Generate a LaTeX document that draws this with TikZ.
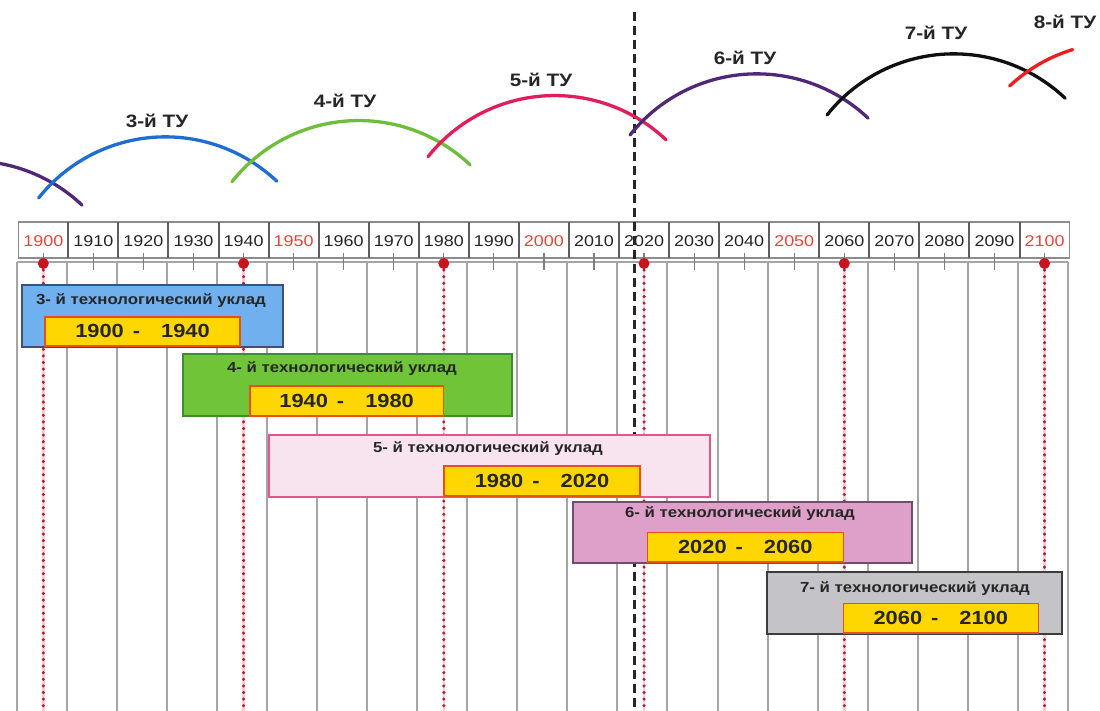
\documentclass[tikz,border=0pt]{standalone}
\usepackage{fontspec}
\setmainfont{Liberation Sans}[FakeStretch=1.15]
\definecolor{gridc}{RGB}{165,165,165}
\definecolor{hdrsep}{RGB}{95,95,95}
\definecolor{hdrline}{RGB}{140,140,140}
\definecolor{yrred}{RGB}{228,70,60}
\definecolor{dotred}{RGB}{200,20,30}
\definecolor{dotline}{RGB}{175,30,50}
\definecolor{dotunder}{RGB}{250,205,210}
\definecolor{cthreef}{RGB}{112,176,238}
\definecolor{cthreel}{RGB}{60,80,120}
\definecolor{cfourf}{RGB}{112,196,56}
\definecolor{cfourl}{RGB}{65,140,45}
\definecolor{cfivef}{RGB}{248,228,238}
\definecolor{cfivel}{RGB}{228,85,140}
\definecolor{csixf}{RGB}{222,160,200}
\definecolor{csixl}{RGB}{110,80,110}
\definecolor{csevf}{RGB}{196,196,200}
\definecolor{csevl}{RGB}{60,60,60}
\definecolor{yel}{RGB}{255,215,0}
\definecolor{yell}{RGB}{232,80,20}
\definecolor{arcP}{RGB}{80,40,120}
\definecolor{arcB}{RGB}{30,110,210}
\definecolor{arcG}{RGB}{110,190,60}
\definecolor{arcR}{RGB}{225,30,90}
\definecolor{arcK}{RGB}{15,15,15}
\definecolor{arcE}{RGB}{235,30,30}
\begin{document}
\begin{tikzpicture}[x=1pt,y=-1pt,
  gridline/.style={draw=gridc,line width=2pt},
  tickst/.style={draw=hdrsep!80,line width=1.2pt},
  yrlab/.style={font=\fontsize{15.6}{16}\selectfont,inner sep=0pt},
  dotst/.style={circle,fill=dotred,inner sep=0pt,minimum size=11pt},
  dotunderst/.style={draw=dotunder,line width=2.4pt},
  dotlinest/.style={draw=dotline,line width=3.4pt,line cap=round,dash pattern=on 0pt off 6.6pt},
  nowline/.style={draw=black!85,line width=3pt,dash pattern=on 9pt off 5pt},
  boxst/.style 2 args={draw=#2,fill=#1,line width=2pt,anchor=north west,inner sep=0pt,outer sep=0pt},
  yelbox/.style={draw=yell,fill=yel,line width=1.6pt,anchor=north west,inner sep=0pt,outer sep=0pt,
    font=\fontsize{19}{20}\selectfont\bfseries,text=black!85},
  titlest/.style={font=\fontsize{14.6}{15}\selectfont\bfseries,text=black!85,inner sep=0pt},
  arcst/.style={line width=3.3pt,line cap=round},
  arclab/.style={font=\fontsize{18}{18}\selectfont\bfseries,text=black!85,inner sep=0pt}]
\useasboundingbox (0,0) rectangle (1100,711);
\fill[white] (0,0) rectangle (1100,711);

% lower grid
\foreach \k in {0,...,21}{
  \pgfmathsetmacro{\xx}{18.3+50.06*\k-1.6}
  \draw[gridline] (\xx,262) -- (\xx,711);
}
\draw[gridline] (16.7,262) -- (1068,262);

% header row
\draw[draw=hdrline,line width=1.6pt] (18.3,222.3) rectangle (1069.5,258.3);
\foreach \k in {1,...,20}{
  \pgfmathsetmacro{\xx}{18.3+50.06*\k}
  \draw[draw=hdrsep,line width=2pt] (\xx,222.3) -- (\xx,258.3);
}
\foreach \k in {0,...,20}{
  \pgfmathtruncatemacro{\yr}{1900+10*\k}
  \pgfmathtruncatemacro{\m}{mod(\k,5)}
  \pgfmathsetmacro{\xc}{18.3+50.06*\k+25.03}
  \ifnum\m=0 \def\yc{yrred}\else\def\yc{black!85}\fi
  \node[yrlab,text=\yc] (h\yr) at (\xc,240.8) {\yr};
  \draw[tickst] (\xc,253) -- (\xc,270);
}

% red dotted lines
\foreach \k in {0,4,8,12,16,20}{
  \pgfmathtruncatemacro{\yr}{1900+10*\k}
  \pgfmathsetmacro{\xc}{18.3+50.06*\k+25.03}
  \coordinate (a\yr) at (\xc,263.5);
  \coordinate (z\yr) at (\xc,711);
  \draw[dotunderst] (a\yr) -- (z\yr);
  \draw[dotlinest] (a\yr) -- (z\yr);
}

% "now" dashed line
\coordinate (nowtop) at (634.2,12);
\coordinate (nowbot) at (634.2,711);
\draw[nowline] (nowtop) -- (nowbot);

% dots on axis
\foreach \k in {0,4,8,12,16,20}{
  \pgfmathtruncatemacro{\yr}{1900+10*\k}
  \node[dotst] (d\yr) at (a\yr) {};
}

% boxes
\node[boxst={cthreef}{cthreel},minimum width=261pt,minimum height=61.7pt] (b3) at (21.7,285) {};
\node[yelbox,minimum width=195pt,minimum height=29.3pt] (p3) at (45,316.7) {1900\hspace{9pt}-\hspace{21pt}1940};
\node[titlest] (t3) at (151,301) {3- й технологический уклад};

\node[boxst={cfourf}{cfourl},minimum width=329pt,minimum height=62pt] (b4) at (182.7,354) {};
\node[yelbox,minimum width=193.3pt,minimum height=30.3pt] (p4) at (250,385.7) {1940\hspace{9pt}-\hspace{21pt}1980};
\node[titlest] (t4) at (342,369) {4- й технологический уклад};

\node[boxst={cfivef}{cfivel},minimum width=440.1pt,minimum height=61.7pt] (b5) at (269.4,435) {};
\node[yelbox,minimum width=196pt,minimum height=30.3pt] (p5) at (444,465.7) {1980\hspace{9pt}-\hspace{21pt}2020};
\node[titlest] (t5) at (488,449) {5- й технологический уклад};

\node[boxst={csixf}{csixl},minimum width=339pt,minimum height=60.4pt] (b6) at (572.7,502.3) {};
\node[yelbox,minimum width=196pt,minimum height=29.7pt] (p6) at (647.3,532.3) {2020\hspace{9pt}-\hspace{21pt}2060};
\node[titlest] (t6) at (740,514) {6- й технологический уклад};

\node[boxst={csevf}{csevl},minimum width=295pt,minimum height=61.7pt] (b7) at (766.7,572.3) {};
\node[yelbox,minimum width=195pt,minimum height=29.4pt] (p7) at (843.3,603.3) {2060\hspace{9pt}-\hspace{21pt}2100};
\node[titlest] (t7) at (915,589) {7- й технологический уклад};

% arcs
\begin{scope}
\clip (0,0) rectangle (1100,711);
\coordinate (s2) at (-156,222);
\coordinate (s3) at (38.6,198);
\coordinate (s4) at (232,181.7);
\coordinate (s5) at (428,156.7);
\coordinate (s6) at (630,135);
\coordinate (s7) at (827,115);
\coordinate (s8) at (1009.6,86);
\draw[arcst,arcP] (s2) arc[start angle=-141.5,end angle=-46.6,radius=162];
\draw[arcst,arcB] (s3) arc[start angle=-141.5,end angle=-46.6,radius=162];
\draw[arcst,arcG] (s4) arc[start angle=-141.5,end angle=-46.6,radius=162];
\draw[arcst,arcR] (s5) arc[start angle=-141.5,end angle=-46.6,radius=162];
\draw[arcst,arcP] (s6) arc[start angle=-141.5,end angle=-46.6,radius=162];
\draw[arcst,arcK] (s7) arc[start angle=-141.5,end angle=-46.6,radius=162];
\draw[arcst,arcE] (s8) arc[start angle=-133,end angle=-107,radius=162];
\end{scope}

\node[arclab] (l3) at (157,121) {3-й ТУ};
\node[arclab] (l4) at (345,101) {4-й ТУ};
\node[arclab] (l5) at (541,80) {5-й ТУ};
\node[arclab] (l6) at (745,58) {6-й ТУ};
\node[arclab] (l7) at (936,33) {7-й ТУ};
\node[arclab] (l8) at (1065,22) {8-й ТУ};
\end{tikzpicture}
\end{document}
